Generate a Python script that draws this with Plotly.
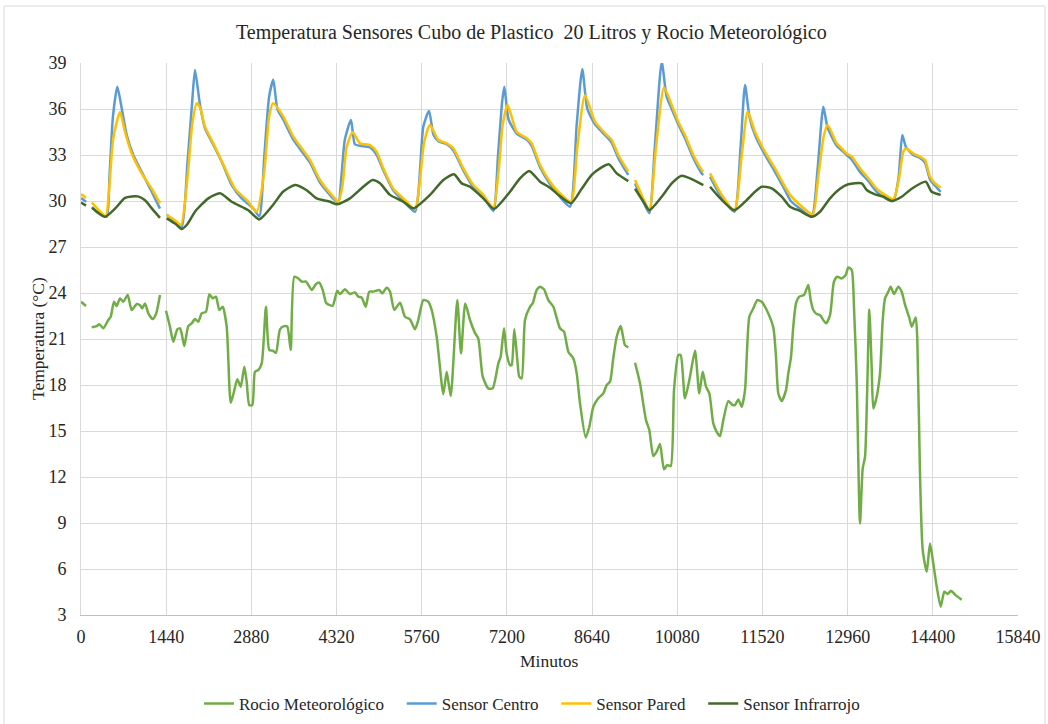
import plotly.graph_objects as go

# ---------------- data (minutes, °C); None = gap in the record ----------------
rocio_min = [0, 85, None,
             181, 265, 309, 377, 461, 502, 558, 603, 659, 715, 789, 857, 942, 997, 1036, 1082, 1138, 1212, 1268, 1335, None,
             1437, 1504, 1560, 1628, 1674, 1702, 1746, 1814, 1871, 1927, 1983, 2040, 2113, 2169, 2226, 2282, 2338, 2395,
             2463, 2531, 2586, 2642, 2700, 2761, 2801, 2845, 2896, 2941, 2997, 3055, 3127, 3183, 3240, 3296, 3364, 3432,
             3488, 3545, 3606, 3674, 3731, 3804, 3900, 3973, 4029, 4086, 4142, 4198, 4255, 4333, 4378, 4462, 4547, 4632,
             4688, 4745, 4813, 4874, 4943, 5043, 5093, 5168, 5224, 5296, 5393, 5477, 5562, 5646, 5702, 5787, 5871, 5928,
             6013, 6125, 6182, 6250, 6361, 6424, 6496, 6576, 6660, 6716, 6791, 6885, 6959, 7055, 7094, 7151, 7196, 7252,
             7280, 7325, 7376, 7409, 7450, 7506, 7590, 7636, 7704, 7760, 7827, 7900, 7985, 8097, 8165, 8238, 8322, 8380,
             8436, 8532, 8593, 8661, 8745, 8830, 8887, 8943, 8998, 9056, 9124, 9196, 9252, None,
             9366, 9450, 9551, 9607, 9675, 9732, 9788, 9856, 9912, 9969, 10025, 10097, 10138, 10210, 10295, 10380, 10452,
             10510, 10566, 10622, 10689, 10746, 10802, 10858, 10943, 11017, 11056, 11112, 11169, 11225, 11298, 11366,
             11433, 11507, 11591, 11703, 11749, 11788, 11845, 11918, 11957, 12003, 12041, 12087, 12143, 12222, 12295,
             12335, 12379, 12436, 12493, 12594, 12662, 12729, 12785, 12859, 12927, 12971, 13029, 13067, 13113, 13169,
             13215, 13254, 13292, 13326, 13366, 13394, 13451, 13507, 13553, 13592, 13648, 13688, 13744, 13816, 13873,
             13930, 14003, 14043, 14111, 14138, 14183, 14229, 14297, 14352, 14408, 14466, 14533, 14594, 14650, 14707,
             14775, 14888]
rocio_temp = [23.43, 23.15, None,
              21.76, 21.84, 21.97, 21.70, 22.24, 22.45, 23.43, 23.15, 23.65, 23.43, 23.87, 22.89, 23.28, 23.20, 23.00, 23.32, 22.67, 22.30, 22.63, 23.87, None,
              22.84, 21.80, 20.82, 21.63, 21.70, 21.35, 20.54, 21.84, 22.02, 22.30, 22.13, 22.67, 22.78, 23.91, 23.65, 23.76, 22.89, 23.10,
              21.80, 16.84, 17.56, 18.37, 17.89, 19.19, 18.20, 16.69, 16.69, 18.86, 18.97, 19.41, 23.10, 20.28, 20.24, 20.10, 21.63, 21.84,
              21.80, 20.28, 25.06, 24.95, 24.74, 24.74, 24.20, 24.59, 24.68, 24.20, 23.37, 23.22, 23.17, 24.15, 23.93, 24.24, 23.93, 24.04,
              23.76, 23.70, 23.10, 24.09, 24.09, 24.20, 23.98, 24.35, 24.09, 22.89, 23.37, 22.45, 22.28, 21.63, 22.24, 23.54, 23.43, 22.89,
              21.15, 17.41, 18.86, 17.28, 23.54, 20.06, 23.32, 22.24, 21.40, 21.04, 18.54, 17.78, 17.78, 19.41, 19.84, 21.70, 20.06, 19.30,
              19.30, 21.63, 19.63, 18.54, 18.43, 22.24, 23.10, 23.32, 24.20, 24.41, 24.24, 23.54, 23.10, 21.70, 21.48, 20.17, 19.74, 18.76,
              16.80, 14.58, 15.28, 16.58, 17.13, 17.45, 18.00, 18.22, 19.74, 21.15, 21.84, 20.60, 20.45, None,
              19.45, 18.11, 15.71, 15.07, 13.37, 13.65, 14.15, 12.50, 12.78, 12.71, 17.67, 19.95, 19.95, 17.13, 18.54, 20.23, 17.45,
              18.86, 17.89, 17.45, 15.50, 14.95, 14.67, 15.71, 16.95, 16.69, 16.69, 17.06, 16.58, 17.67, 22.45, 23.00,
              23.54, 23.43, 22.89, 21.76, 19.84, 17.45, 16.95, 17.67, 18.76, 19.84, 21.80, 23.32, 23.76, 23.87, 24.52,
              23.54, 22.89, 22.63, 22.56, 22.02, 22.56, 24.74, 25.06, 24.95, 25.17, 25.67, 25.50, 23.10, 18.32, 8.97,
              12.56, 13.32, 17.89, 22.93, 19.20, 16.47, 17.24, 18.76, 22.24, 23.65, 24.09, 24.41, 23.93, 24.41, 24.09,
              23.24, 22.37, 21.80, 22.41, 20.93, 12.24, 7.23, 5.82, 7.67, 6.37, 4.85, 3.54, 4.52, 4.37, 4.58,
              4.33, 4.00]

centro_min = [0, 85, None,
              186, 300, 434, 480, 540, 614, 688, 773, 884, 1026, 1195, 1335, None,
              1449, 1600, 1702, 1800, 1880, 1927, 2012, 2096, 2209, 2379, 2548, 2717, 2913, 3014,
              3100, 3180, 3251, 3320, 3420, 3589, 3871, 4040, 4265, 4350,
              4400, 4460, 4564, 4630, 4717, 4886, 4999, 5110, 5279, 5448, 5646,
              5787, 5883, 5960, 6040, 6182, 6294, 6463, 6632, 6801, 6970,
              7050, 7120, 7156, 7230, 7365, 7534, 7619, 7760, 7928, 8069, 8266,
              8380, 8474, 8560, 8689, 8858, 8971, 9083, 9252, None,
              9366, 9500, 9607, 9700, 9817, 9900, 9986, 10097, 10210, 10351, 10493, 10520, None,
              10634, 10800, 11044, 11150, 11225, 11300, 11394, 11563, 11732, 11901, 12000, 12155, 12352,
              12450, 12549, 12620, 12775, 12860, 12944, 13029, 13169, 13309, 13451, 13592, 13732,
              13820, 13884, 13947, 14070, 14183, 14268, 14352, 14437, 14533]
centro_temp = [30.20, 29.95, None,
               29.60, 29.20, 28.97, 31.50, 35.50, 37.45, 36.05, 34.30, 33.00, 31.90, 30.60, 29.50, None,
               29.10, 28.60, 28.30, 32.50, 36.50, 38.54, 36.26, 34.74, 33.87, 32.56, 31.04, 30.17, 29.52, 29.00,
               33.00, 36.80, 37.90, 36.00, 35.30, 34.00, 32.50, 31.20, 30.15, 29.90,
               31.50, 34.00, 35.28, 33.70, 33.60, 33.50, 33.00, 32.00, 30.70, 30.00, 29.30,
               34.85, 35.87, 34.30, 33.90, 33.70, 33.30, 32.00, 30.90, 30.30, 29.35,
               33.00, 36.50, 37.45, 35.30, 34.40, 34.00, 33.60, 32.20, 31.10, 30.40, 29.63,
               35.00, 38.60, 36.00, 35.00, 34.30, 33.80, 32.80, 31.70, None,
               31.15, 30.00, 29.20, 33.50, 39.08, 36.80, 36.00, 35.00, 34.10, 32.80, 31.80, 31.70, None,
               31.58, 30.40, 29.30, 33.50, 37.56, 35.50, 34.30, 33.00, 31.90, 30.70, 30.00, 29.50, 29.00,
               32.00, 36.15, 34.80, 33.60, 33.30, 33.00, 32.70, 31.90, 31.30, 30.60, 30.20, 30.00,
               31.50, 34.30, 33.50, 33.00, 32.80, 32.50, 31.40, 31.00, 30.60]

pared_min = [0, 85, None,
             186, 300, 418, 470, 546, 659, 744, 857, 1026, 1195, 1335, None,
             1449, 1600, 1690, 1800, 1880, 1956, 2012, 2096, 2265, 2434, 2603, 2828, 2970,
             3100, 3180, 3246, 3420, 3589, 3871, 4040, 4265, 4350,
             4420, 4490, 4593, 4717, 4886, 4999, 5110, 5279, 5448, 5646,
             5720, 5800, 5900, 6040, 6182, 6294, 6463, 6632, 6801, 6970,
             7060, 7130, 7213, 7365, 7534, 7619, 7760, 7928, 8069, 8283,
             8390, 8520, 8689, 8858, 8971, 9083, 9252, None,
             9366, 9500, 9607, 9720, 9856, 9986, 10097, 10210, 10351, 10493, 10520, None,
             10634, 10800, 11044, 11170, 11271, 11394, 11563, 11732, 11901, 11986, 12155, 12369,
             12460, 12560, 12623, 12775, 12860, 12944, 13029, 13169, 13309, 13451, 13592, 13732,
             13830, 13900, 13947, 14070, 14183, 14268, 14352, 14437, 14533]
pared_temp = [30.45, 30.20, None,
              29.90, 29.40, 29.00, 30.50, 34.10, 35.80, 34.50, 33.10, 31.80, 30.80, 29.85, None,
              29.10, 28.70, 28.43, 31.50, 35.00, 36.37, 36.10, 34.85, 33.54, 32.13, 30.80, 29.95, 29.30,
              32.00, 35.50, 36.37, 35.50, 34.20, 32.67, 31.37, 30.28, 29.95,
              31.00, 33.50, 34.48, 33.76, 33.65, 33.20, 32.13, 30.80, 30.17, 29.48,
              31.00, 33.80, 34.96, 33.98, 33.76, 33.43, 32.13, 31.04, 30.40, 29.56,
              32.00, 35.00, 36.26, 34.52, 34.09, 33.76, 32.35, 31.26, 30.60, 29.95,
              33.50, 36.90, 35.17, 34.41, 33.98, 33.00, 31.91, None,
              31.37, 30.20, 29.40, 33.50, 37.40, 36.26, 35.17, 34.30, 33.00, 32.02, 31.90, None,
              31.80, 30.60, 29.40, 33.00, 35.83, 34.52, 33.20, 32.13, 30.93, 30.40, 29.74, 29.13,
              31.50, 34.30, 34.96, 33.76, 33.43, 33.10, 32.89, 32.13, 31.48, 30.80, 30.40, 30.13,
              31.50, 33.20, 33.43, 33.10, 32.89, 32.67, 31.58, 31.15, 30.87]

infra_min = [0, 85, None,
             186, 300, 406, 575, 744, 857, 960, 1082, 1200, 1335, None,
             1449, 1600, 1702, 1800, 1927, 2152, 2350, 2548, 2828, 3014, 3246, 3415, 3618, 3815, 3984,
             4209, 4333, 4547, 4772, 4931, 5055, 5224, 5448, 5617, 5900, 6125, 6305, 6436, 6576, 6801,
             6982, 7252, 7421, 7578, 7760, 7928, 8069, 8283, 8464, 8633, 8774, 8926, 9056, 9252, None,
             9366, 9500, 9607, 9817, 9986, 10155, 10324, 10520, None,
             10634, 10800, 11044, 11225, 11394, 11507, 11676, 11845, 11986, 12155, 12352, 12493, 12662,
             12831, 12971, 13198, 13282, 13423, 13563, 13705, 13874, 14043, 14280, 14381, 14533]
infra_temp = [29.90, 29.70, None,
              29.56, 29.20, 28.97, 29.50, 30.20, 30.30, 30.30, 30.05, 29.50, 28.90, None,
              28.87, 28.50, 28.17, 28.50, 29.30, 30.17, 30.50, 29.95, 29.40, 28.80, 29.74, 30.60, 31.04, 30.70, 30.17,
              29.95, 29.78, 30.17, 30.93, 31.37, 31.15, 30.40, 29.95, 29.52, 30.40, 31.37, 31.74, 31.15, 30.93, 30.17,
              29.48, 30.60, 31.48, 31.96, 31.26, 30.87, 30.40, 29.85, 30.80, 31.70, 32.13, 32.39, 31.80, 31.30, None,
              30.80, 30.00, 29.40, 30.28, 31.15, 31.65, 31.43, 31.04, None,
              30.93, 30.20, 29.40, 29.95, 30.60, 30.93, 30.83, 30.28, 29.63, 29.35, 28.97, 29.30, 30.17,
              30.80, 31.09, 31.15, 30.72, 30.43, 30.28, 30.00, 30.28, 30.80, 31.26, 30.60, 30.40]

series_names = ["Rocio Meteorológico", "Sensor Centro", "Sensor Pared", "Sensor Infrarrojo"]
series_colors = ["#70AD47", "#5B9BD5", "#FFC000", "#43682B"]
x_ticks = [0, 1440, 2880, 4320, 5760, 7200, 8640, 10080, 11520, 12960, 14400, 15840]
y_ticks = [3, 6, 9, 12, 15, 18, 21, 24, 27, 30, 33, 36, 39]

FONT = "'Liberation Serif', 'Times New Roman', Tinos, 'DejaVu Serif', serif"
TXT = "#262626"
PAD = "\u00a0\u00a0\u00a0"  # extra spacing after legend entries

fig = go.Figure()
all_x = [rocio_min, centro_min, pared_min, infra_min]
all_y = [rocio_temp, centro_temp, pared_temp, infra_temp]
for i, (name, color, xs, ys) in enumerate(zip(series_names, series_colors, all_x, all_y)):
    label = name + (PAD if i < len(series_names) - 1 else "")
    fig.add_trace(go.Scatter(x=xs, y=ys, name=label, mode="lines",
                             line=dict(color=color, width=2.5, shape="spline", smoothing=0.6),
                             connectgaps=False))

L, R, T, B = 81, 30, 63, 109
fig.update_layout(
    width=1048, height=724,
    margin=dict(l=L, r=R, t=T, b=B, autoexpand=False),
    paper_bgcolor="white", plot_bgcolor="white",
    font=dict(family=FONT, size=17, color=TXT),
    showlegend=True,
    legend=dict(orientation="h", x=0.4813, xanchor="center", y=-0.161, yanchor="middle",
                font=dict(family=FONT, size=17, color=TXT), itemwidth=30, tracegroupgap=0),
    xaxis=dict(range=[0, 15840], tickvals=x_ticks, ticktext=[str(v) for v in x_ticks],
               showgrid=True, gridcolor="#D9D9D9", gridwidth=1, zeroline=False,
               showline=True, linecolor="#BFBFBF", linewidth=1, mirror=False,
               ticks="outside", ticklen=5, tickcolor="rgba(0,0,0,0)",
               tickfont=dict(family=FONT, size=18, color=TXT)),
    yaxis=dict(range=[3, 39], tickvals=y_ticks, ticktext=[str(v) for v in y_ticks],
               showgrid=True, gridcolor="#D9D9D9", gridwidth=1, zeroline=False,
               showline=True, linecolor="#D9D9D9", linewidth=1,
               ticks="outside", ticklen=10, tickcolor="rgba(0,0,0,0)",
               tickfont=dict(family=FONT, size=18, color=TXT)),
    annotations=[
        dict(text="Temperatura Sensores Cubo de Plastico\u00a0 20 Litros y Rocio Meteorológico",
             xref="paper", yref="paper", x=0.4813, y=(615 - 32) / 552,
             xanchor="center", yanchor="middle", showarrow=False,
             font=dict(family=FONT, size=20, color=TXT)),
        dict(text="Minutos", xref="paper", yref="paper", x=0.5, y=(615 - 661) / 552,
             xanchor="center", yanchor="middle", showarrow=False,
             font=dict(family=FONT, size=17.5, color=TXT)),
        dict(text="Temperatura (°C)", xref="paper", yref="paper", x=(38 - 81) / 937, y=0.5,
             xanchor="center", yanchor="middle", showarrow=False, textangle=-90,
             font=dict(family=FONT, size=17.5, color=TXT)),
    ],
    shapes=[dict(type="rect", xref="paper", yref="paper",
                 x0=(4 - 81) / 937, x1=(1045 - 81) / 937,
                 y0=(615 - 730) / 552, y1=(615 - 6) / 552,
                 line=dict(color="#D9D9D9", width=1), fillcolor="rgba(0,0,0,0)", layer="below")],
)

fig.write_html("out.html")
